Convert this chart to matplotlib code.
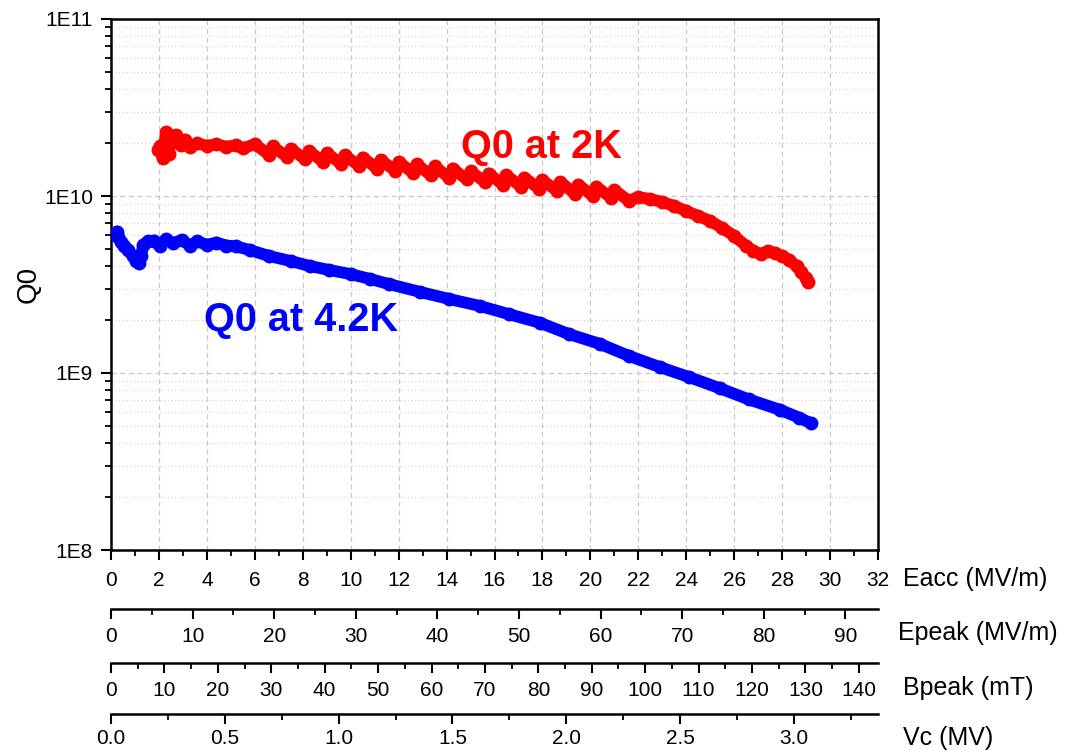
import matplotlib
matplotlib.use("Agg")
import matplotlib.pyplot as plt
from matplotlib.ticker import (MultipleLocator, FixedLocator, NullFormatter, LogLocator)

plt.rcParams['font.family'] = ['Liberation Sans', 'DejaVu Sans']

# ---------------- data ----------------
eacc_2k = [1.95, 2.05, 2.15, 2.30, 2.40, 2.50, 2.70, 2.90, 3.10, 3.30, 3.60, 4.00, 4.40, 4.80, 5.20, 5.50,
           6.00, 6.60, 6.75, 7.35, 7.50, 8.10, 8.25, 8.85, 9.00, 9.60, 9.75, 10.35, 10.50, 11.10, 11.25,
           11.85, 12.00, 12.60, 12.75, 13.35, 13.50, 14.10, 14.25, 14.85, 15.00, 15.60, 15.75, 16.35,
           16.50, 17.10, 17.25, 17.85, 18.00, 18.60, 18.75, 19.35, 19.50, 20.10, 20.25, 20.85, 21.00,
           21.60, 22.0, 22.5, 23.0, 23.5, 24.0, 24.5, 25.0, 25.5, 26.0, 26.5, 26.8, 27.1, 27.4, 27.7,
           28.0, 28.3, 28.6, 28.8, 29.0, 29.1]
q0_2k = [1.82e10, 1.92e10, 1.64e10, 2.30e10, 1.72e10, 2.08e10, 2.20e10, 1.95e10, 2.08e10, 1.90e10,
         1.98e10, 1.92e10, 1.96e10, 1.90e10, 1.93e10, 1.86e10,
         1.96e10, 1.71e10, 1.91e10, 1.66e10, 1.85e10, 1.61e10, 1.80e10, 1.56e10, 1.75e10, 1.52e10,
         1.70e10, 1.48e10, 1.65e10, 1.43e10, 1.60e10, 1.39e10, 1.56e10, 1.35e10, 1.51e10, 1.31e10,
         1.47e10, 1.27e10, 1.43e10, 1.24e10, 1.38e10, 1.20e10, 1.34e10, 1.16e10, 1.31e10, 1.13e10,
         1.27e10, 1.10e10, 1.23e10, 1.07e10, 1.20e10, 1.03e10, 1.16e10, 1.00e10, 1.13e10, 9.8e9,
         1.08e10, 9.4e9, 9.87e9, 9.6e9, 9.25e9, 8.78e9, 8.23e9, 7.71e9, 7.22e9, 6.6e9, 5.94e9, 5.22e9,
         4.89e9, 4.70e9, 4.89e9, 4.76e9, 4.58e9, 4.35e9, 4.02e9, 3.72e9, 3.45e9, 3.27e9]

eacc_42k = [0.25, 0.30, 0.40, 0.55, 0.70, 0.90, 1.05, 1.15, 1.25, 1.35, 1.55, 1.80, 2.05, 2.30, 2.60,
            2.95, 3.30, 3.60, 4.00, 4.40, 4.80, 5.20, 5.80, 6.60, 7.50, 8.30, 9.10, 10.0, 10.8, 11.6,
            12.9, 14.1, 15.4, 16.6, 17.9, 19.1, 20.4, 21.6, 22.9, 24.1, 25.4, 26.6, 27.9, 28.7, 29.2]
q0_42k = [6.3e9, 5.9e9, 5.5e9, 5.2e9, 4.95e9, 4.6e9, 4.3e9, 4.2e9, 4.6e9, 5.3e9, 5.55e9, 5.6e9, 5.2e9,
          5.7e9, 5.4e9, 5.65e9, 5.25e9, 5.55e9, 5.3e9, 5.45e9, 5.25e9, 5.2e9, 4.95e9, 4.58e9, 4.29e9,
          4.02e9, 3.82e9, 3.62e9, 3.40e9, 3.18e9, 2.87e9, 2.62e9, 2.39e9, 2.15e9, 1.92e9, 1.66e9,
          1.46e9, 1.25e9, 1.08e9, 9.5e8, 8.2e8, 7.1e8, 6.2e8, 5.6e8, 5.2e8]

y_ticks = [1e8, 1e9, 1e10, 1e11]
y_tick_labels = ["1E8", "1E9", "1E10", "1E11"]
epeak_ticks = [0, 10, 20, 30, 40, 50, 60, 70, 80, 90]
bpeak_ticks = [0, 10, 20, 30, 40, 50, 60, 70, 80, 90, 100, 110, 120, 130, 140]
vc_ticks = [0.0, 0.5, 1.0, 1.5, 2.0, 2.5, 3.0]
vc_tick_labels = ["0.0", "0.5", "1.0", "1.5", "2.0", "2.5", "3.0"]

# conversion factors of the extra axes relative to Eacc
EPEAK_PER_EACC = 2.937
BPEAK_PER_EACC = 4.487
VC_PER_EACC = 0.1053

# ---------------- figure ----------------
W, H = 1065, 750
fig = plt.figure(figsize=(W / 100, H / 100), dpi=100)
ax = fig.add_axes([111 / W, 1 - 550 / H, 767 / W, 531 / H])

ax.plot(eacc_2k, q0_2k, color='#ff0000', lw=8.5, marker='o', ms=10, mew=0,
        solid_capstyle='round', solid_joinstyle='round', zorder=3)
ax.plot(eacc_42k, q0_42k, color='#0000ff', lw=8.5, marker='o', ms=10, mew=0,
        solid_capstyle='round', solid_joinstyle='round', zorder=3)

ax.set_yscale('log')
ax.set_ylim(1e8, 1e11)
ax.set_xlim(0, 32)

ax.yaxis.set_major_locator(FixedLocator(y_ticks))
ax.set_yticklabels(y_tick_labels)
ax.yaxis.set_minor_locator(LogLocator(base=10, subs=range(2, 10)))
ax.yaxis.set_minor_formatter(NullFormatter())
ax.xaxis.set_major_locator(MultipleLocator(2))
ax.xaxis.set_minor_locator(MultipleLocator(1))

for s in ax.spines.values():
    s.set_linewidth(1.8)
ax.tick_params(which='major', direction='out', length=7, width=1.5, labelsize=15, pad=6)
ax.tick_params(which='minor', direction='out', length=4, width=1.3)
ax.tick_params(axis='x', which='major', pad=8)

ax.grid(which='major', axis='both', color='#c8c8c8', linestyle=(0, (4, 3)), lw=0.9)
ax.grid(which='minor', axis='y', color='#d4d4d4', linestyle=(0, (1, 2)), lw=0.9)
ax.set_axisbelow(True)

ax.set_ylabel("Q0", fontsize=20)
ax.yaxis.set_label_coords(-0.091, 0.5)

ax.text(14.6, 1.89e10, "Q0 at 2K", color='#ff0000', fontsize=28.5, fontweight='bold',
        ha='left', va='center')
ax.text(3.9, 1.99e9, "Q0 at 4.2K", color='#0000ff', fontsize=28.5, fontweight='bold',
        ha='left', va='center')

# extra x axes
def add_axis(loc_px, factor, ticks, minor, pad):
    sec = ax.secondary_xaxis((550 - loc_px) / 531,
                             functions=(lambda x, f=factor: x * f, lambda x, f=factor: x / f))
    sec.xaxis.set_major_locator(FixedLocator(ticks))
    sec.xaxis.set_minor_locator(MultipleLocator(minor))
    sec.spines['bottom'].set_linewidth(1.8)
    sec.tick_params(which='major', direction='out', length=7, width=1.5, labelsize=15, pad=pad)
    sec.tick_params(which='minor', direction='out', length=4, width=1.3)
    return sec

add_axis(609, EPEAK_PER_EACC, epeak_ticks, 5, 6)
add_axis(663, BPEAK_PER_EACC, bpeak_ticks, 5, 6)
sec_vc = add_axis(714, VC_PER_EACC, vc_ticks, 0.25, 4)
sec_vc.set_xticklabels(vc_tick_labels)

for label, ypx, xpx in [("Eacc (MV/m)", 579, 903), ("Epeak (MV/m)", 633, 898),
                        ("Bpeak (mT)", 688, 903), ("Vc (MV)", 738, 903)]:
    fig.text(xpx / W, 1 - ypx / H, label, fontsize=18, ha='left', va='center')

fig.savefig("out.png", dpi=100)
